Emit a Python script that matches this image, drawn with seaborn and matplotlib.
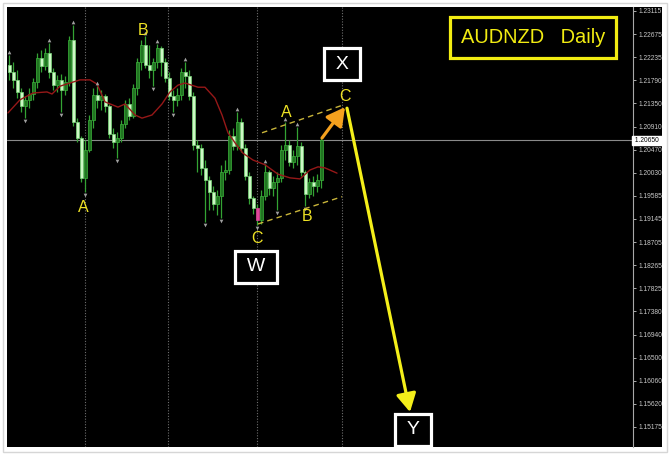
import numpy as np
import pandas as pd
import seaborn as sns
import matplotlib.pyplot as plt
from matplotlib.patches import Rectangle

# daily AUDNZD candles
opens = [1.2208, 1.2195, 1.2180, 1.2157, 1.2130, 1.2142, 1.2153, 1.2176, 1.2222, 1.2207,
         1.2231, 1.2195, 1.2170, 1.2180, 1.2161, 1.2176, 1.2256, 1.2100, 1.2069, 1.1993,
         1.2046, 1.2103, 1.2151, 1.2142, 1.2149, 1.2130, 1.2077, 1.2061, 1.2069, 1.2096,
         1.2134, 1.2111, 1.2165, 1.2214, 1.2247, 1.2208, 1.2199, 1.2214, 1.2241, 1.2214,
         1.2184, 1.2149, 1.2142, 1.2151, 1.2195, 1.2187, 1.2149, 1.2056, 1.2050, 1.2012,
         1.1989, 1.1966, 1.1943, 1.1958, 1.2004, 1.2008, 1.2073, 1.2054, 1.2100, 1.2050,
         1.1997, 1.1955, 1.1935, 1.1913, 1.1958, 1.2004, 1.1974, 1.1985, 1.1993, 1.2046,
         1.2056, 1.2023, 1.2035, 1.2054, 1.2004, 1.1962, 1.1985, 1.1977, 1.1989]
highs = [1.2228, 1.2214, 1.2199, 1.2165, 1.2149, 1.2165, 1.2184, 1.2231, 1.2237, 1.2241,
         1.2250, 1.2203, 1.2189, 1.2191, 1.2187, 1.2264, 1.2285, 1.2107, 1.2073, 1.2065,
         1.2113, 1.2165, 1.2168, 1.2161, 1.2153, 1.2134, 1.2088, 1.2081, 1.2103, 1.2142,
         1.2145, 1.2172, 1.2222, 1.2256, 1.2264, 1.2247, 1.2222, 1.2249, 1.2245, 1.2222,
         1.2195, 1.2161, 1.2165, 1.2203, 1.2214, 1.2199, 1.2157, 1.2065, 1.2058, 1.2027,
         1.1997, 1.1977, 1.1970, 1.2018, 1.2027, 1.2084, 1.2088, 1.2119, 1.2107, 1.2058,
         1.2004, 1.1958, 1.1943, 1.1970, 1.2019, 1.2008, 1.1997, 1.2004, 1.2056, 1.2100,
         1.2065, 1.2046, 1.2090, 1.2061, 1.2008, 1.1993, 1.1997, 1.2000, 1.2069]
lows = [1.2180, 1.2165, 1.2145, 1.2119, 1.2107, 1.2126, 1.2142, 1.2165, 1.2195, 1.2199,
        1.2184, 1.2161, 1.2157, 1.2119, 1.2151, 1.2168, 1.2092, 1.2061, 1.1985, 1.1966,
        1.2042, 1.2088, 1.2126, 1.2123, 1.2119, 1.2069, 1.2050, 1.2031, 1.2061, 1.2088,
        1.2103, 1.2107, 1.2151, 1.2199, 1.2203, 1.2184, 1.2168, 1.2203, 1.2187, 1.2176,
        1.2142, 1.2119, 1.2130, 1.2142, 1.2165, 1.2142, 1.2046, 1.2004, 1.1998, 1.1909,
        1.1932, 1.1932, 1.1922, 1.1916, 1.1989, 1.2000, 1.2046, 1.2046, 1.2042, 1.1989,
        1.1943, 1.1924, 1.1903, 1.1905, 1.1951, 1.1960, 1.1958, 1.1932, 1.1985, 1.2027,
        1.2016, 1.2012, 1.2018, 1.1997, 1.1939, 1.1955, 1.1958, 1.1966, 1.1974]
closes = [1.2195, 1.2180, 1.2157, 1.2130, 1.2142, 1.2153, 1.2176, 1.2222, 1.2207, 1.2231,
          1.2195, 1.2170, 1.2180, 1.2161, 1.2176, 1.2256, 1.2100, 1.2069, 1.1993, 1.2046,
          1.2103, 1.2151, 1.2142, 1.2149, 1.2130, 1.2077, 1.2061, 1.2069, 1.2096, 1.2134,
          1.2111, 1.2165, 1.2214, 1.2247, 1.2208, 1.2199, 1.2214, 1.2241, 1.2214, 1.2184,
          1.2149, 1.2142, 1.2151, 1.2195, 1.2187, 1.2149, 1.2056, 1.2050, 1.2012, 1.1989,
          1.1966, 1.1943, 1.1958, 1.2004, 1.2008, 1.2073, 1.2054, 1.2100, 1.2050, 1.1997,
          1.1955, 1.1935, 1.1913, 1.1958, 1.2004, 1.1974, 1.1985, 1.1993, 1.2046, 1.2056,
          1.2023, 1.2035, 1.2054, 1.2004, 1.1962, 1.1985, 1.1977, 1.1989, 1.2065]

# shifted moving average (bar position, price)
ma_bar = [-0.25, 2.75, 6, 9.5, 10.75, 12.75, 15.25, 17.75, 20.25, 22, 24, 27.25, 29,
          31.5, 33.25, 35.75, 38.25, 40.25, 42.25, 44, 47.25, 49, 51.5, 53.25, 54.75,
          56.5, 58.5, 61, 64, 67.25, 70.25, 72.75, 75.25, 77.25, 79, 82]
ma_price = [1.2117, 1.2142, 1.2155, 1.2157, 1.2153, 1.2168, 1.2174, 1.2180, 1.2180,
            1.2172, 1.2138, 1.2128, 1.2134, 1.2113, 1.2107, 1.2113, 1.2134, 1.2157,
            1.2170, 1.2174, 1.2166, 1.2166, 1.2145, 1.2113, 1.2079, 1.2060, 1.2040,
            1.2027, 1.2018, 1.2000, 1.1993, 1.1991, 1.2008, 1.2014, 1.2012, 1.2002]

fractal_up = [0, 10, 16, 22, 34, 37, 44, 57, 64, 69, 72]
fractal_down = [4, 13, 19, 27, 36, 41, 49, 53, 62, 67, 74]
highlight_bar = 62

price_ticks = [1.23115, 1.22675, 1.22235, 1.21790, 1.21350, 1.20910, 1.20470, 1.20030,
               1.19585, 1.19145, 1.18705, 1.18265, 1.17825, 1.17380, 1.16940, 1.16500,
               1.16060, 1.15620, 1.15175]
last_price = 1.20650
period_lines = [19, 39.75, 62, 83.25]

df = pd.DataFrame({'bar': np.arange(len(closes)), 'open': opens, 'high': highs,
                   'low': lows, 'close': closes})

W, H = 670, 455
sns.set_style("dark", {"axes.facecolor": "black"})
plt.rcParams['font.family'] = ['Liberation Sans', 'DejaVu Sans']

fig = plt.figure(figsize=(W / 100, H / 100), dpi=100, facecolor='white')
fig.patches.append(Rectangle((3 / W, 3 / H), 664 / W, 449 / H, transform=fig.transFigure,
                             fill=False, ec='#d6d6d6', lw=1, zorder=-10))
fig.patches.append(Rectangle((7 / W, 8 / H), 655 / W, 440 / H, transform=fig.transFigure,
                             fc='black', ec='none', zorder=-10))
ax = fig.add_axes([7 / W, 8 / H, 626 / W, 440 / H])
ax.set_facecolor('black')

# period separators and current price
for g in period_lines:
    ax.axvline(g, color='#6e6e6e', lw=0.8, ls=(0, (1, 1.5)), zorder=1)
ax.axhline(last_price, color='#8a8a8a', lw=0.8, zorder=1)

# candles
bull = df['close'] >= df['open']
body_fc = np.where(bull, '#217521', '#ccf8c4')
body_ec = np.where(bull, '#3cb43c', '#7ad87a')
body_fc[highlight_bar] = '#e0469a'
body_ec[highlight_bar] = '#e0469a'
ax.vlines(df['bar'], df['low'], df['high'], color='#33a333', lw=0.9, zorder=2)
body_lo = df[['open', 'close']].min(axis=1)
body_h = (df['close'] - df['open']).abs().clip(lower=0.00012)
ax.bar(df['bar'], body_h, bottom=body_lo, width=0.75, color=body_fc,
       edgecolor=body_ec, linewidth=0.5, zorder=3)

# moving average
sns.lineplot(x=ma_bar, y=ma_price, color='#961818', lw=1, ax=ax, zorder=4)

# fractal arrows
sns.scatterplot(x=fractal_up, y=df['high'].iloc[fractal_up].values + 0.0006, marker='^',
                s=7, color='#a0a0a0', linewidth=0, ax=ax, zorder=4)
sns.scatterplot(x=fractal_down, y=df['low'].iloc[fractal_down].values - 0.0006, marker='v',
                s=7, color='#a0a0a0', linewidth=0, ax=ax, zorder=4)

# wave channel
chan_col = '#c8b43a'
ax.plot([63.25, 83.5], [1.2079, 1.2132], color=chan_col, lw=1, ls=(0, (4, 3)), zorder=5)
ax.plot([62.25, 83.25], [1.1905, 1.1957], color=chan_col, lw=1, ls=(0, (4, 3)), zorder=5)

# projected path
ax.annotate('', xy=(84, 1.2128), xytext=(78.25, 1.2069),
            arrowprops=dict(arrowstyle='-|>,head_length=0.55,head_width=0.3', color='#f5a11e',
                            lw=2.3, mutation_scale=20, shrinkA=0, shrinkB=0), zorder=6)
ax.annotate('', xy=(100.25, 1.1546), xytext=(84.5, 1.2126),
            arrowprops=dict(arrowstyle='-|>,head_length=0.55,head_width=0.3', color='#f4ef1a',
                            lw=2.3, mutation_scale=20, shrinkA=0, shrinkB=0), zorder=6)

# wave labels
wave_marks = [('A', 18.5, 1.1937), ('B', 33.5, 1.2275), ('A', 69.25, 1.2117),
              ('C', 62, 1.1878), ('B', 74.5, 1.1919), ('C', 84, 1.2149)]
for txt, bx, py in wave_marks:
    ax.text(bx, py, txt, color='#eee225', fontsize=11.5, ha='center', va='center', zorder=7)

for txt, bx, py in [('X', 83.25, 1.2210), ('W', 61.75, 1.1823), ('Y', 101, 1.1512)]:
    ax.text(bx, py, '\u2009' + txt + '\u2009', color='white', fontsize=14, ha='center',
            va='center', bbox=dict(boxstyle='square,pad=0.4', fc='black', ec='white', lw=2.3),
            zorder=7)

ax.text(131, 1.2260, 'AUDNZD   Daily', color='#f2ec12', fontsize=14.4, ha='center',
        va='center', bbox=dict(boxstyle='square,pad=0.55', fc='black', ec='#f2ec12', lw=2.3),
        zorder=7)

# price scale
ax.set_xlim(-0.5, 156)
ax.set_ylim(1.14793, 1.23191)
ax.set_xticks([])
ax.set_yticks(price_ticks)
ax.set_yticklabels([f'{v:.5f}' for v in price_ticks])
ax.tick_params(axis='y', left=False, right=True, labelleft=False, labelright=True,
               colors='#c8c8c8', labelsize=4.8, length=2.5, width=0.6, pad=1.5)
ax.grid(False)
for side in ['left', 'top', 'bottom']:
    ax.spines[side].set_visible(False)
ax.spines['right'].set_color('#a8a8a8')
ax.spines['right'].set_linewidth(0.8)
ax.text(1.0, last_price, ' 1.20650 ', transform=ax.get_yaxis_transform(), fontsize=4.8,
        color='black', ha='left', va='center', clip_on=False,
        bbox=dict(boxstyle='square,pad=0.15', fc='white', ec='white'), zorder=8)

fig.savefig('out.png', dpi=100, facecolor='white')
